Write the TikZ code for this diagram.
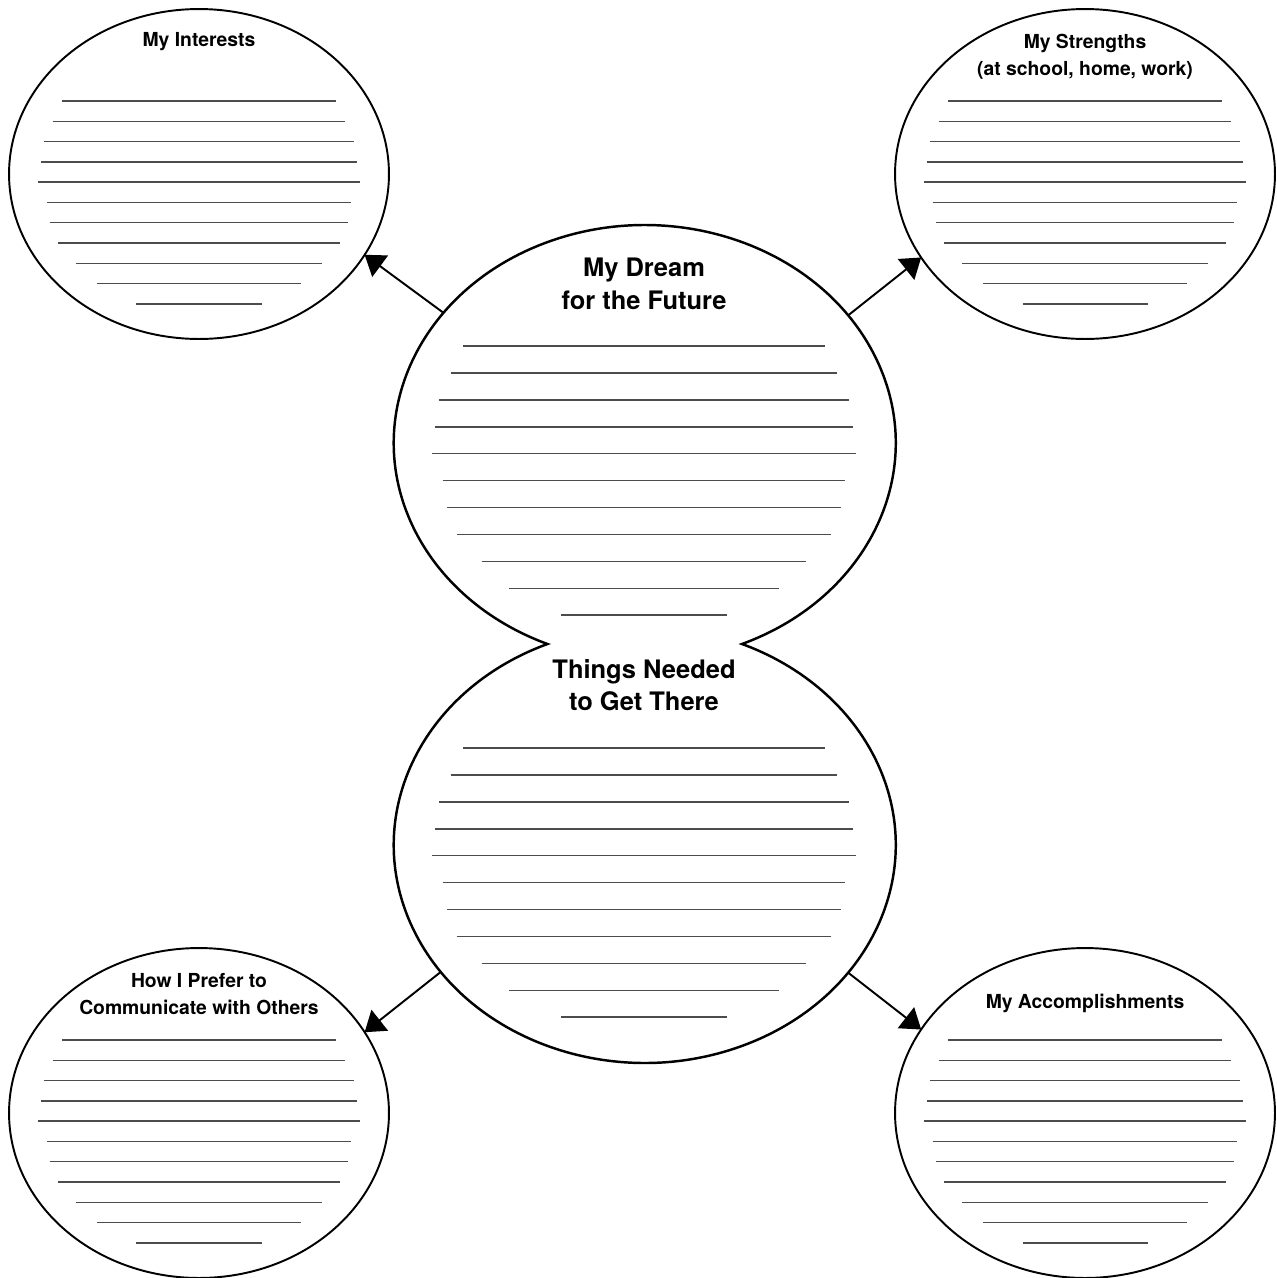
\documentclass[tikz,border=0pt]{standalone}
\usepackage{fontspec}
\setmainfont{TeX Gyre Heros}
\usepackage{tikz}
\usetikzlibrary{shapes.geometric, arrows.meta}

\tikzstyle{bubble} = [ellipse, draw = black, line width = 1.1pt, inner sep = 0pt, outer sep = 0pt, minimum width = 7.6cm, minimum height = 6.6cm]
\tikzstyle{bigbubble} = [ellipse, inner sep = 0pt, outer sep = 0pt, minimum width = 10.04cm, minimum height = 8.72cm]
\tikzstyle{title} = [font = \fontsize{11}{15.3}\selectfont\bfseries, align = center, inner sep = 0pt]
\tikzstyle{bigtitle} = [font = \fontsize{14.5}{18.5}\selectfont\bfseries, align = center, inner sep = 0pt]

% writing lines: centre x, centre y, x radius, line spacing
\newcommand{\writelines}[4]{
\foreach \w [count=\i from 0] in {0.72,0.77,0.817,0.833,0.845,0.802,0.786,0.744,0.647,0.538,0.329}
  \draw[wline] ({#1-\w*#3},{#2+(\i-3.6)*#4}) -- ({#1+\w*#3},{#2+(\i-3.6)*#4});
}

\begin{document}
\begin{tikzpicture}[x=0.02cm, y=-0.02cm, >={Triangle[length=11pt, width=15pt]}]
\tikzset{wline/.style={line width=0.8pt, black!70}}

% The page
\fill[white] (0,0) rectangle (1276,1278);
\useasboundingbox (0,0) rectangle (1276,1278);

% The four outer bubbles
\node[bubble] (interests) at (199,174) {};
\node[bubble] (strengths) at (1085,174) {};
\node[bubble] (communicate) at (199,1113) {};
\node[bubble] (accomplish) at (1085,1113) {};

\node[title] (interestsT) at (199,42) {My Interests};
\node[title] (strengthsT) at (1085,57) {My Strengths\\(at school, home, work)};
\node[title] (communicateT) at (199,994) {How I Prefer to\\Communicate with Others};
\node[title] (accomplishT) at (1085,1003) {My Accomplishments};

\writelines{199}{174}{190}{20.3}
\writelines{1085}{174}{190}{20.3}
\writelines{199}{1113}{190}{20.3}
\writelines{1085}{1113}{190}{20.3}

% Centre: two ellipses pinched together
\node[bigbubble] (dream) at (644,443) {};
\node[bigbubble] (needs) at (644,845) {};
\draw[line width=1.4pt] (742,644)
  arc[start angle=67.2, end angle=-247.2, x radius=251, y radius=218]
  arc[start angle=247.2, end angle=-67.2, x radius=251, y radius=218] -- cycle;

\node[bigtitle] (dreamT) at (644,284) {My Dream\\for the Future};
\node[bigtitle] (needsT) at (644,685) {Things Needed\\to Get There};

\writelines{644}{443}{251}{26.9}
\writelines{644}{845}{251}{26.9}

% Arrows
\draw[->, line width=1.1pt] (dream.147.5) -- (interests.-26.3);
\draw[->, line width=1.1pt] (dream.32.5) -- (strengths.-153.7);
\draw[->, line width=1.1pt] (needs.-148) -- (communicate.26.8);
\draw[->, line width=1.1pt] (needs.-32) -- (accomplish.153.2);

\end{tikzpicture}
\end{document}
